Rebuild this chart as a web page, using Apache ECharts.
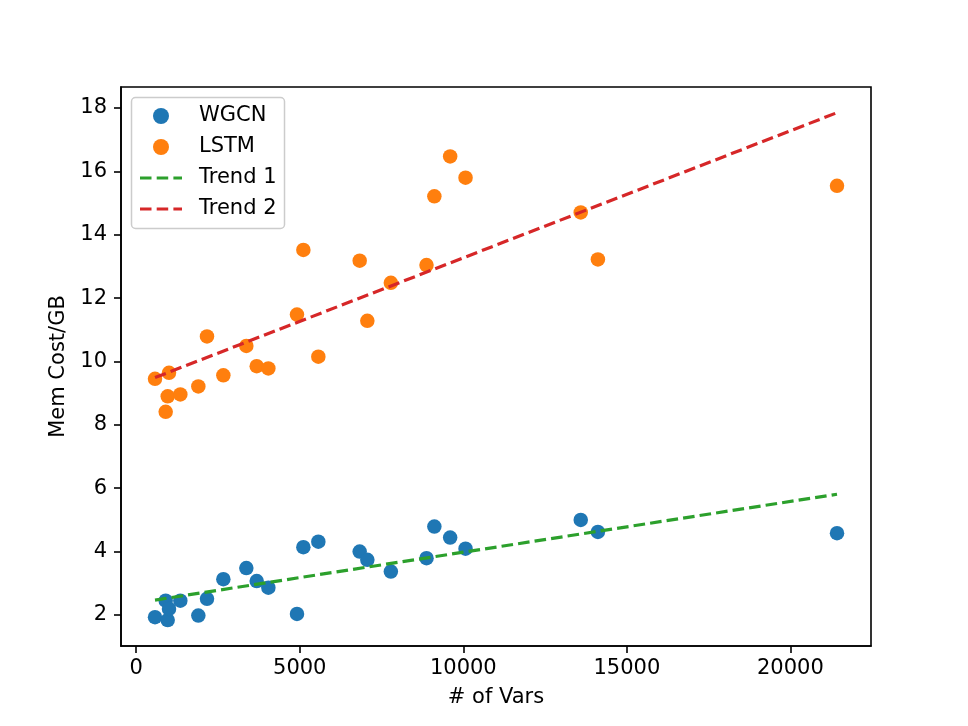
<!DOCTYPE html>
<html>
<head>
<meta charset="utf-8">
<script src="https://cdn.jsdelivr.net/npm/echarts@6/dist/echarts.min.js"></script>
<style>
html,body{margin:0;padding:0;background:#fff;}
#main{width:968px;height:726px;}
</style>
</head>
<body>
<div id="main"></div>
<script>
// number of vars per sample (shared by both models)
var vars = [575, 901, 963, 1003, 1349, 1899, 2164, 2664, 3367, 3684, 4040, 4915,
            5110, 5568, 6832, 7066, 7785, 8875, 9115, 9598, 10068, 13590, 14115, 21425];
var wgcn = [1.93, 2.45, 1.84, 2.19, 2.45, 1.98, 2.51, 3.13, 3.48, 3.07, 2.86, 2.03,
            4.14, 4.31, 4.00, 3.74, 3.37, 3.79, 4.79, 4.44, 4.09, 5.00, 4.62, 4.58];
var lstm = [9.45, 8.41, 8.90, 9.64, 8.96, 9.21, 10.79, 9.56, 10.49, 9.85, 9.78, 11.48,
            13.52, 10.15, 13.18, 11.28, 12.48, 13.04, 15.21, 16.47, 15.80, 14.70, 13.22, 15.54];
// trend line end points
var trendX = [575, 21425];
var trend1 = [2.47, 5.81];
var trend2 = [9.49, 17.85];
// tick labels
var xTicks = [0, 5000, 10000, 15000, 20000];
var yTicks = [2, 4, 6, 8, 10, 12, 14, 16, 18];

function pairs(xs, ys) {
    return xs.map(function (x, i) { return [x, ys[i]]; });
}

var font = 'DejaVu Sans';
var fs = 21;
// dashed legend handle, 42x16 box
var dashIcon = 'path://M0,0M42,16M0,6.4h11.5v3.2h-11.5zM16.7,6.4h11.5v3.2h-11.5zM33.4,6.4h8.6v3.2h-8.6z';

var main = document.getElementById("main");
var mychart = echarts.init(main);
var option = {
    animation: false,
    backgroundColor: '#fff',
    grid: {left: 121, right: 97, top: 87, bottom: 80, show: true,
           borderColor: '#000', borderWidth: 1.6, backgroundColor: 'transparent'},
    legend: {
        orient: 'vertical', left: 131.5, top: 97.5,
        padding: [8, 8, 9, 8.5],
        itemWidth: 42, itemHeight: 16, itemGap: 10,
        borderColor: '#cccccc', borderWidth: 1.5, borderRadius: 4,
        backgroundColor: 'rgba(255,255,255,0.8)',
        textStyle: {fontFamily: font, fontSize: fs, color: '#000', lineHeight: 21, padding: [0, 0, 0, 12]},
        data: [
            {name: 'WGCN', icon: 'circle'},
            {name: 'LSTM', icon: 'circle'},
            {name: 'Trend 1', icon: dashIcon},
            {name: 'Trend 2', icon: dashIcon}
        ]
    },
    xAxis: {
        type: 'value', min: -465, max: 22464,
        name: '# of Vars', nameLocation: 'middle', nameGap: 41,
        nameTextStyle: {fontFamily: font, fontSize: fs, color: '#000'},
        splitLine: {show: false},
        axisLine: {show: true, onZero: false, lineStyle: {color: '#000', width: 1.6}},
        axisTick: {show: true, length: 7, lineStyle: {color: '#000', width: 1.6}, customValues: xTicks},
        axisLabel: {fontFamily: font, fontSize: fs, color: '#000', margin: 12, customValues: xTicks,
                    formatter: function (v) { return String(v); }}
    },
    yAxis: {
        type: 'value', min: 1.02, max: 18.66,
        name: 'Mem Cost/GB', nameLocation: 'middle', nameGap: 51,
        nameTextStyle: {fontFamily: font, fontSize: fs, color: '#000'},
        splitLine: {show: false},
        axisLine: {show: true, onZero: false, lineStyle: {color: '#000', width: 1.6}},
        axisTick: {show: true, length: 7, lineStyle: {color: '#000', width: 1.6}, customValues: yTicks},
        axisLabel: {fontFamily: font, fontSize: fs, color: '#000', margin: 14, customValues: yTicks}
    },
    series: [
        {name: 'WGCN', type: 'scatter', symbolSize: 14.5, itemStyle: {color: '#1f77b4', opacity: 1}, data: pairs(vars, wgcn)},
        {name: 'LSTM', type: 'scatter', symbolSize: 14.5, itemStyle: {color: '#ff7f0e', opacity: 1}, data: pairs(vars, lstm)},
        {name: 'Trend 1', type: 'line', symbol: 'none', color: '#2ca02c',
         lineStyle: {color: '#2ca02c', width: 3.2, type: [11.6, 5.1]}, data: pairs(trendX, trend1)},
        {name: 'Trend 2', type: 'line', symbol: 'none', color: '#d62728',
         lineStyle: {color: '#d62728', width: 3.2, type: [11.6, 5.1]}, data: pairs(trendX, trend2)}
    ]
};
mychart.setOption(option);
</script>
</body>
</html>
